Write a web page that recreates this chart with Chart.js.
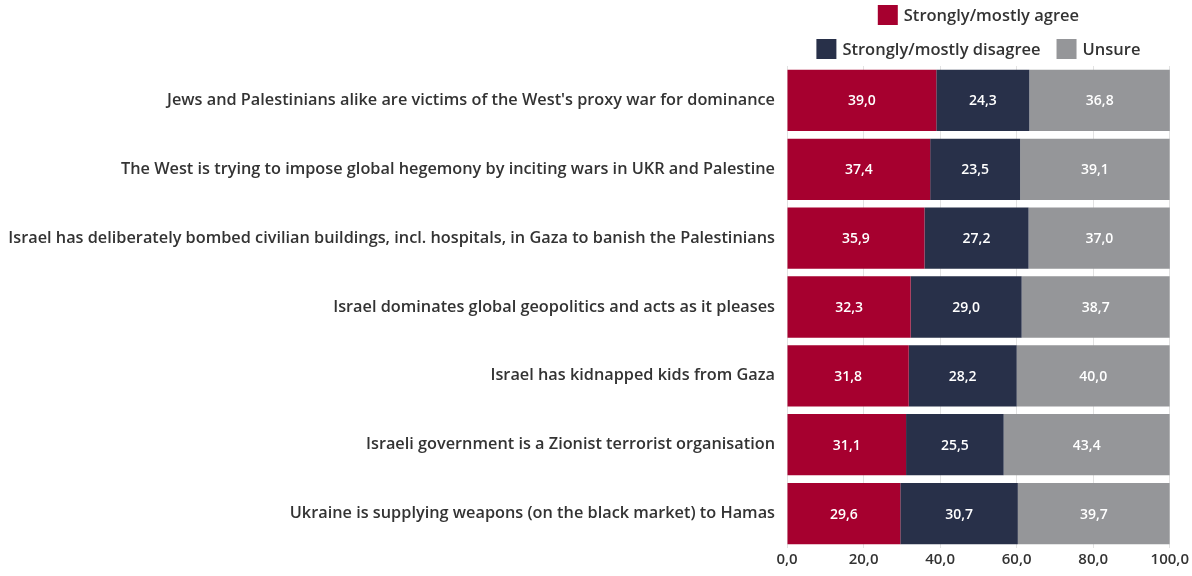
<!DOCTYPE html>
<html>
<head>
<meta charset="utf-8">
<script src="https://cdn.jsdelivr.net/npm/chart.js@4/dist/chart.umd.min.js"></script>
<style>
  html, body { margin: 0; padding: 0; background: #fff; }
  #wrap { width: 1192px; height: 576px; }
</style>
</head>
<body>
<div id="wrap"><canvas id="chart"></canvas></div>
<script>
// ── DATA ─────────────────────────────────────
const statements = [
  "Jews and Palestinians alike are victims of the West's proxy war for dominance",
  'The West is trying to impose global hegemony by inciting wars in UKR and Palestine',
  'Israel has deliberately bombed civilian buildings, incl. hospitals, in Gaza to banish the Palestinians',
  'Israel dominates global geopolitics and acts as it pleases',
  'Israel has kidnapped kids from Gaza',
  'Israeli government is a Zionist terrorist organisation',
  'Ukraine is supplying weapons (on the black market) to Hamas'
];
const agree    = [39.0, 37.4, 35.9, 32.3, 31.8, 31.1, 29.6];
const disagree = [24.3, 23.5, 27.2, 29.0, 28.2, 25.5, 30.7];
const unsure   = [36.8, 39.1, 37.0, 38.7, 40.0, 43.4, 39.7];
const xTicks   = [0, 20, 40, 60, 80, 100];

const FONT = '"Open Sans", Lato, sans-serif';
const TEXT = '#333333';
const fmt = v => v.toFixed(1).replace('.', ',');

// legend in two rows above the plot, centred on the chart area
const legendRows = [[0], [1, 2]];
const topLegend = {
  id: 'top-legend',
  afterDraw(chart) {
    const c = chart.ctx, area = chart.chartArea;
    const ds = chart.data.datasets;
    const box = 20, gapText = 6, gapItem = 16;
    const rowY = [15, 49];
    c.save();
    c.font = '600 16.5px ' + FONT;
    c.textBaseline = 'middle';
    c.textAlign = 'left';
    legendRows.forEach((row, r) => {
      const widths = row.map(i => box + gapText + c.measureText(ds[i].label).width);
      const total = widths.reduce((a, b) => a + b, 0) + gapItem * (row.length - 1);
      let x = (area.left + area.right) / 2 - total / 2;
      row.forEach((i, k) => {
        c.fillStyle = ds[i].backgroundColor;
        c.fillRect(x, rowY[r] - box / 2, box, box);
        c.fillStyle = TEXT;
        c.fillText(ds[i].label, x + box + gapText, rowY[r] + 1);
        x += widths[k] + gapItem;
      });
    });
    c.restore();
  }
};

// value labels in the middle of every segment
const segLabels = {
  id: 'seg-labels',
  afterDatasetsDraw(chart) {
    const c = chart.ctx;
    c.save();
    c.font = '600 14px ' + FONT;
    c.fillStyle = '#fff';
    c.textAlign = 'center';
    c.textBaseline = 'middle';
    chart.data.datasets.forEach((ds, d) => {
      chart.getDatasetMeta(d).data.forEach((bar, i) => {
        const mid = (bar.x + bar.base) / 2;
        c.fillText(fmt(ds.data[i]), mid, bar.y + 1);
      });
    });
    c.restore();
  }
};

new Chart(document.getElementById('chart'), {
  type: 'bar',
  data: {
    labels: statements,
    datasets: [
      { label: 'Strongly/mostly agree', data: agree, backgroundColor: '#a6002f' },
      { label: 'Strongly/mostly disagree', data: disagree, backgroundColor: '#283049' },
      { label: 'Unsure', data: unsure, backgroundColor: '#959699' }
    ]
  },
  options: {
    indexAxis: 'y',
    responsive: true, maintainAspectRatio: false,
    animation: false,
    layout: { padding: { top: 66, right: 22, bottom: 4, left: 0 } },
    datasets: { bar: { categoryPercentage: 1, barPercentage: 0.89, borderWidth: 0 } },
    plugins: { legend: { display: false }, tooltip: { enabled: false } },
    scales: {
      x: {
        stacked: true, min: 0, max: 100,
        afterBuildTicks: s => { s.ticks = xTicks.map(v => ({ value: v })); },
        grid: { color: '#e2e2e2', drawTicks: false },
        border: { display: false },
        ticks: { color: TEXT, padding: 3, font: { family: FONT, size: 15, weight: '600' }, callback: v => fmt(v) }
      },
      y: {
        stacked: true,
        afterFit: s => { s.width = 787; },
        grid: { display: false },
        border: { display: false },
        ticks: { color: TEXT, padding: 4, font: { family: FONT, size: 16.3, weight: '600' } }
      }
    }
  },
  plugins: [topLegend, segLabels]
});
</script>
</body>
</html>
